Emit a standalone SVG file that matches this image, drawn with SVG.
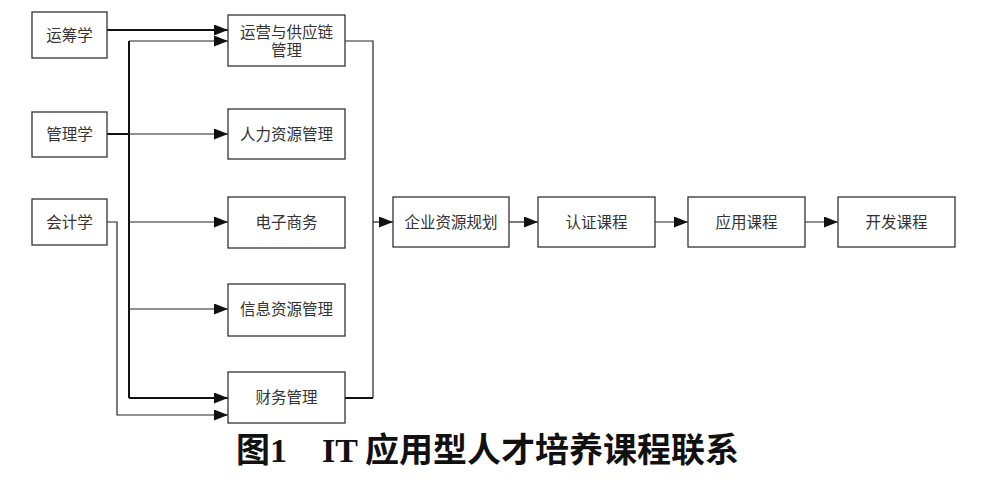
<svg xmlns="http://www.w3.org/2000/svg" width="989" height="482" viewBox="0 0 989 482">
<defs>
<marker id="ah" markerUnits="userSpaceOnUse" markerWidth="16" markerHeight="12" refX="14" refY="5.5" orient="auto">
<path d="M0,0 L14,5.5 L0,11 Z" fill="#111"/>
</marker>
</defs>
<style>
.box{fill:#fff;stroke:#333;stroke-width:1.3}
.lbl{font-family:"Liberation Serif","Noto Sans CJK SC",serif;font-size:15.5px;fill:#333;text-anchor:middle;dominant-baseline:central}
.c{fill:none;stroke:#222;stroke-width:1.2}
.t{fill:none;stroke:#111;stroke-width:2}
.title{font-family:"Liberation Serif","Noto Sans CJK SC",serif;font-size:34px;font-weight:bold;fill:#111}
</style>
<rect width="989" height="482" fill="#fff"/>
<g id="connectors">
<path class="t" d="M107,30 H228" marker-end="url(#ah)"/>
<path class="t" d="M129,41 V398"/>
<path class="c" d="M129,41 H228" marker-end="url(#ah)"/>
<path class="c" d="M107,134 H228" marker-end="url(#ah)"/>
<path class="t" d="M107,134 H129"/>
<path class="c" d="M129,222 H228" marker-end="url(#ah)"/>
<path class="c" d="M129,309 H228" marker-end="url(#ah)"/>
<path class="t" d="M129,398 H228" marker-end="url(#ah)"/>
<path class="c" d="M107,222 H117 V415 H228" marker-end="url(#ah)"/>
<path class="c" d="M345,41 H373 V398"/>
<path class="t" d="M345,398 H373"/>
<path class="c" d="M373,222 H393" marker-end="url(#ah)"/>
<path class="c" d="M509,222 H538" marker-end="url(#ah)"/>
<path class="c" d="M655,222 H688" marker-end="url(#ah)"/>
<path class="c" d="M805,222 H838" marker-end="url(#ah)"/>
</g>
<g id="n-yunchouxue"><rect class="box" x="32" y="12" width="75" height="46"/><text class="lbl" x="69.5" y="35">运筹学</text></g>
<g id="n-guanlixue"><rect class="box" x="32" y="112" width="75" height="45"/><text class="lbl" x="69.5" y="134">管理学</text></g>
<g id="n-kuaijixue"><rect class="box" x="32" y="199" width="75" height="46"/><text class="lbl" x="69.5" y="222">会计学</text></g>
<g id="n-yunying"><rect class="box" x="228" y="15" width="117" height="51"/><text class="lbl" x="286.5" y="32">运营与供应链</text><text class="lbl" x="286.5" y="50">管理</text></g>
<g id="n-renli"><rect class="box" x="228" y="109" width="117" height="50"/><text class="lbl" x="286.5" y="134">人力资源管理</text></g>
<g id="n-dianzi"><rect class="box" x="228" y="197" width="117" height="51"/><text class="lbl" x="286.5" y="222">电子商务</text></g>
<g id="n-xinxi"><rect class="box" x="228" y="284" width="117" height="52"/><text class="lbl" x="286.5" y="309">信息资源管理</text></g>
<g id="n-caiwu"><rect class="box" x="228" y="372" width="117" height="51"/><text class="lbl" x="286.5" y="397">财务管理</text></g>
<g id="n-erp"><rect class="box" x="393" y="197" width="116" height="50"/><text class="lbl" x="451" y="222">企业资源规划</text></g>
<g id="n-renzheng"><rect class="box" x="538" y="197" width="117" height="50"/><text class="lbl" x="596.5" y="222">认证课程</text></g>
<g id="n-yingyong"><rect class="box" x="688" y="197" width="117" height="50"/><text class="lbl" x="746.5" y="222">应用课程</text></g>
<g id="n-kaifa"><rect class="box" x="838" y="197" width="117" height="50"/><text class="lbl" x="896.5" y="222">开发课程</text></g>
<text class="title" y="462"><tspan x="236">图1</tspan><tspan x="322">IT</tspan><tspan x="365">应用型人才培养课程联系</tspan></text>
</svg>
